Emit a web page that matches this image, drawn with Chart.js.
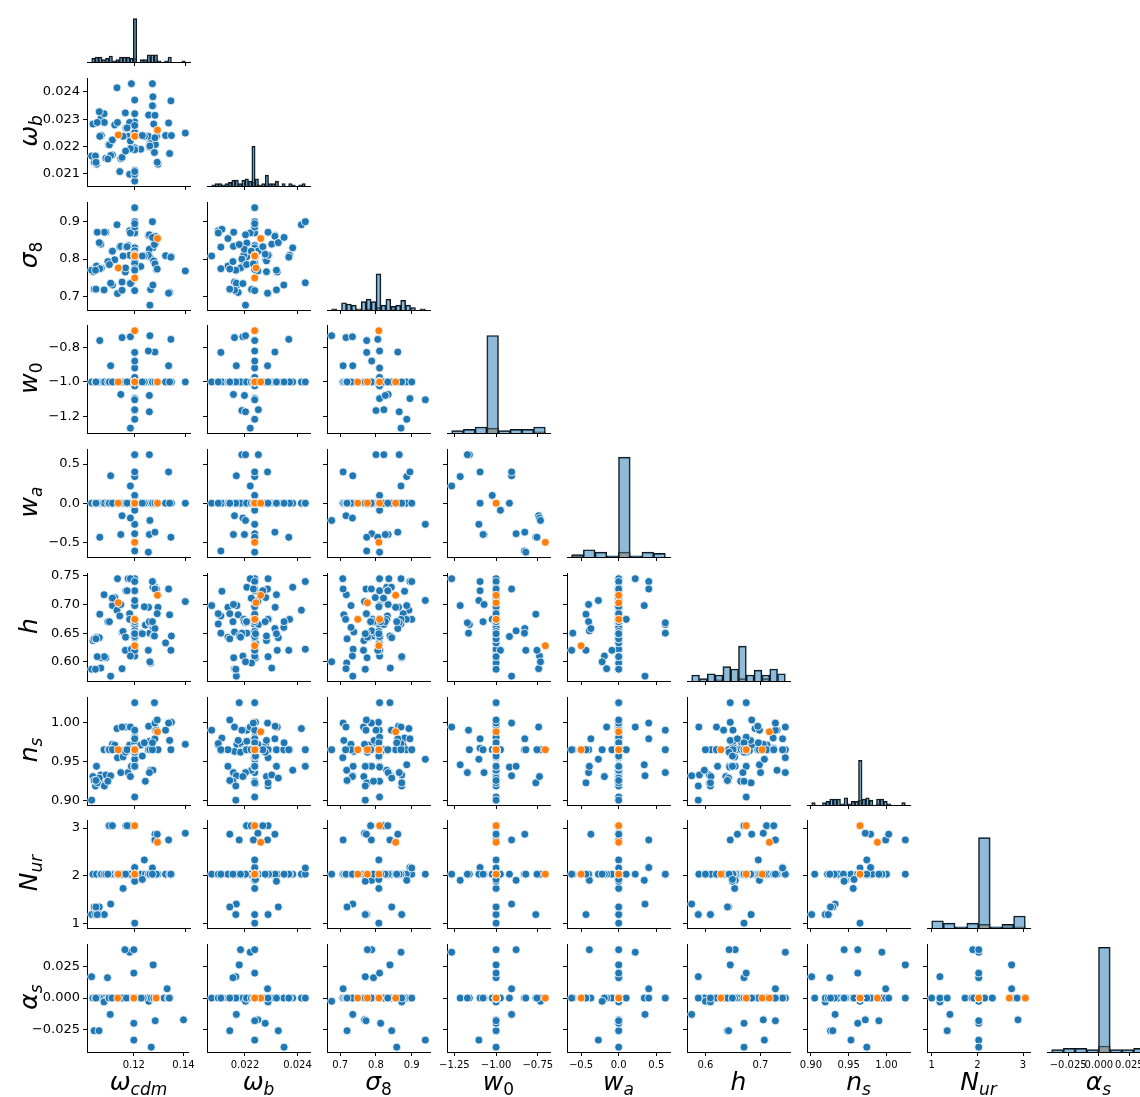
<!DOCTYPE html>
<html>
<head>
<meta charset="utf-8">
<script src="https://cdn.jsdelivr.net/npm/chart.js@4.4.1/dist/chart.umd.min.js"></script>
<style>
  html, body { margin: 0; padding: 0; background: #fff; }
  #fig { position: relative; width: 1140px; height: 1097px; overflow: hidden; background: #fff; }
  #fig canvas { position: absolute; }
  .lab { position: absolute; left: 0; top: 0; transform-origin: 0 0; font-family: 'DejaVu Sans', sans-serif;
         font-size: 25px; line-height: 1; color: #000; white-space: nowrap; }
  .lab i { font-style: oblique; }
  .lab sub { font-size: 68%; vertical-align: -0.3em; line-height: 0; }
</style>
</head>
<body>
<div id="fig"></div>
<script>
// ---- Training sample (blue): one entry per simulation ----
// order: LCDM-varied runs, single-parameter runs at omega_cdm = 0.12,
//        w0/wa runs, N_ur runs, running-index runs, extra N_ur runs
const trainOmegaCdm = [
  0.1035, 0.1049, 0.1066, 0.1068, 0.1079, 0.1086, 0.1112, 0.1121, 0.1130, 0.1132, 0.1141, 0.1150, 0.1163, 0.1174, 0.1180, 0.1187,
  0.1200, 0.1200, 0.1200, 0.1224, 0.1242, 0.1255, 0.1259, 0.1263, 0.1272, 0.1272, 0.1275, 0.1282, 0.1292, 0.1322, 0.1345, 0.1338,
  0.12, 0.12, 0.12, 0.12, 0.12, 0.12, 0.12, 0.12, 0.12, 0.12, 0.12, 0.12, 0.12, 0.12, 0.12, 0.12, 0.12, 0.12,
  0.1183, 0.1200, 0.1200, 0.1200, 0.1258, 0.1200, 0.1200, 0.1200, 0.1145, 0.1258, 0.1200, 0.1200, 0.1105, 0.1334, 0.1200, 0.1200,
  0.1280, 0.1200, 0.1254, 0.1062, 0.1150, 0.1183, 0.1260, 0.1343,
  0.1097, 0.1110, 0.1165, 0.1180, 0.1278, 0.1400, 0.1238, 0.1270, 0.1154, 0.1040, 0.1060, 0.1030, 0.1080, 0.1200,
  0.1094, 0.1164, 0.1200, 0.1200, 0.1286, 0.1270,
  0.1100, 0.1112, 0.1170, 0.1045, 0.1052, 0.1047, 0.1280, 0.1289, 0.1200, 0.1230
];
const trainOmegaB = [
  0.02282, 0.02135, 0.02302, 0.02240, 0.02320, 0.02157, 0.02169, 0.02279, 0.02415, 0.02288, 0.02108, 0.02160, 0.02323, 0.02237, 0.02098, 0.02430,
  0.02073, 0.02112, 0.02098, 0.02190, 0.02237, 0.02315, 0.02207, 0.02225, 0.02382, 0.02348, 0.02282, 0.02207, 0.02135, 0.02240, 0.02240, 0.02174,
  0.02237, 0.02237, 0.02237, 0.02237, 0.02237, 0.02237, 0.02237, 0.02237, 0.02237, 0.02237, 0.02237, 0.02237, 0.02237, 0.02237, 0.02290, 0.02195, 0.02370, 0.02237,
  0.02220, 0.02237, 0.02188, 0.02251, 0.02202, 0.02237, 0.02237, 0.02237, 0.02156, 0.02198, 0.02237, 0.02237, 0.02167, 0.02286, 0.02237, 0.02237,
  0.02314, 0.02108, 0.02237, 0.02237, 0.02160, 0.02192, 0.02202, 0.02367,
  0.02206, 0.02224, 0.02268, 0.02288, 0.02178, 0.02249, 0.02237, 0.02430, 0.02237, 0.02142, 0.02327, 0.02165, 0.02288, 0.02237,
  0.02154, 0.02183, 0.02237, 0.02277, 0.02237, 0.02349,
  0.02206, 0.02224, 0.02268, 0.02165, 0.02288, 0.02142, 0.02232, 0.02142, 0.02320, 0.02240
];
const trainSigma8 = [
  0.766, 0.781, 0.840, 0.775, 0.717, 0.872, 0.730, 0.798, 0.892, 0.707, 0.832, 0.738, 0.765, 0.836, 0.876, 0.736,
  0.808, 0.880, 0.870, 0.780, 0.810, 0.863, 0.806, 0.718, 0.830, 0.730, 0.795, 0.843, 0.855, 0.809, 0.807, 0.710,
  0.900, 0.885, 0.870, 0.830, 0.790, 0.715, 0.810, 0.810, 0.810, 0.810, 0.810, 0.810, 0.810, 0.810, 0.810, 0.810, 0.810, 0.810,
  0.870, 0.886, 0.800, 0.822, 0.865, 0.895, 0.810, 0.938, 0.834, 0.826, 0.810, 0.810, 0.735, 0.708, 0.810, 0.788,
  0.861, 0.774, 0.810, 0.774, 0.716, 0.734, 0.676, 0.805,
  0.785, 0.821, 0.833, 0.810, 0.839, 0.768, 0.808, 0.900, 0.808, 0.719, 0.844, 0.770, 0.872, 0.808,
  0.793, 0.776, 0.810, 0.813, 0.772, 0.858,
  0.785, 0.821, 0.833, 0.770, 0.872, 0.719, 0.787, 0.773, 0.770, 0.808
];
const trainW0 = [
  -1, -1, -1, -1, -1, -1, -1, -1, -1, -1, -1, -1, -1, -1, -1, -1,
  -1, -1, -1, -1, -1, -1, -1, -1, -1, -1, -1, -1, -1, -1, -1, -1,
  -1, -1, -1, -1, -1, -1, -1, -1, -1, -1, -1, -1, -1, -1, -1, -1, -1, -1,
  -1.266, -1.215, -1.165, -1.160, -1.172, -1.096, -1.096, -1.103, -1.072, -1.078, -1.023, -0.974, -0.907, -0.907, -0.920, -0.880,
  -0.828, -0.830, -0.822, -0.762, -0.745, -0.740, -0.734, -0.755,
  -1, -1, -1, -1, -1, -1, -1, -1, -1, -1, -1, -1, -1, -1,
  -1, -1, -1, -1, -1, -1,
  -1, -1, -1, -1, -1, -1, -1, -1, -1, -1
];
const trainWa = [
  0, 0, 0, 0, 0, 0, 0, 0, 0, 0, 0, 0, 0, 0, 0, 0,
  0, 0, 0, 0, 0, 0, 0, 0, 0, 0, 0, 0, 0, 0, 0, 0,
  0, 0, 0, 0, 0, 0, 0, 0, 0, 0, 0, 0, 0, 0, 0, 0, 0, 0,
  0.22, 0.34, 0.62, 0.62, 0.62, 0.40, 0.00, -0.27, -0.40, -0.40, 0.10, -0.09, 0.35, 0.40, 0.00, -0.39,
  -0.37, -0.61, -0.625, -0.435, -0.16, -0.19, -0.22, -0.435,
  0, 0, 0, 0, 0, 0, 0, 0, 0, 0, 0, 0, 0, 0,
  0, 0, 0, 0, 0, 0,
  0, 0, 0, 0, 0, 0, 0, 0, 0, 0
];
const trainHubble = [
  0.637, 0.643, 0.589, 0.607, 0.717, 0.607, 0.698, 0.712, 0.690, 0.745, 0.680, 0.652, 0.620, 0.745, 0.684, 0.622,
  0.698, 0.723, 0.666, 0.650, 0.664, 0.695, 0.650, 0.598, 0.730, 0.660, 0.645, 0.730, 0.695, 0.633, 0.645, 0.682,
  0.674, 0.674, 0.674, 0.674, 0.674, 0.674, 0.745, 0.698, 0.610, 0.642, 0.674, 0.674, 0.674, 0.674, 0.674, 0.674, 0.674, 0.674,
  0.745, 0.698, 0.650, 0.665, 0.668, 0.740, 0.724, 0.707, 0.700, 0.670, 0.674, 0.620, 0.575, 0.727, 0.644, 0.654,
  0.658, 0.650, 0.620, 0.683, 0.588, 0.610, 0.600, 0.620,
  0.670, 0.711, 0.724, 0.674, 0.645, 0.705, 0.696, 0.740, 0.653, 0.640, 0.642, 0.587, 0.609, 0.670,
  0.670, 0.643, 0.674, 0.670, 0.727, 0.670,
  0.670, 0.711, 0.724, 0.587, 0.609, 0.640, 0.727, 0.684, 0.649, 0.649
];
const trainNs = [
  0.931, 0.944, 0.933, 0.922, 0.965, 0.933, 0.972, 0.971, 0.992, 0.955, 0.964, 0.963, 0.994, 0.936, 0.971, 0.944,
  0.990, 0.980, 0.973, 0.971, 0.925, 0.995, 0.976, 0.939, 0.939, 0.965, 0.977, 0.990, 0.965, 0.990, 1.000, 0.977,
  0.965, 0.965, 0.965, 0.965, 0.965, 0.965, 0.965, 0.965, 0.965, 0.965, 1.025, 0.905, 0.944, 0.981, 0.965, 0.965, 0.965, 0.965,
  0.994, 0.946, 0.990, 0.965, 0.936, 0.979, 0.967, 0.953, 0.936, 0.965, 0.965, 0.965, 0.932, 0.999, 0.943, 0.944,
  0.979, 0.965, 0.965, 0.923, 0.994, 0.931, 0.965, 0.965,
  0.965, 0.965, 0.965, 0.965, 1.025, 0.972, 0.974, 0.965, 0.956, 0.926, 0.929, 0.901, 0.919, 0.965,
  0.925, 0.962, 0.962, 0.962, 0.990, 0.974,
  0.965, 0.965, 0.965, 0.919, 0.923, 0.926, 0.999, 1.003, 0.944, 0.957
];
const trainNur = [
  2.03, 2.03, 2.03, 2.03, 2.03, 2.03, 2.03, 2.03, 2.03, 2.03, 2.03, 2.03, 2.03, 2.03, 2.03, 2.03,
  2.03, 2.03, 2.03, 2.03, 2.03, 2.03, 2.03, 2.03, 2.03, 2.03, 2.03, 2.03, 2.03, 2.03, 2.03, 2.03,
  2.03, 2.03, 2.03, 2.03, 2.03, 2.03, 2.03, 2.03, 2.03, 2.03, 2.03, 2.03, 2.03, 2.03, 2.03, 2.03, 2.03, 2.03,
  2.03, 1.90, 2.03, 2.03, 2.03, 2.17, 2.03, 2.03, 2.03, 2.03, 2.03, 2.03, 1.40, 2.75, 2.03, 1.90,
  2.87, 2.03, 2.03, 1.18, 2.03, 2.03, 2.03, 2.03,
  3.05, 3.05, 3.05, 3.05, 2.75, 2.89, 2.33, 2.16, 1.73, 1.34, 1.34, 1.18, 1.18, 1.00,
  2.03, 2.03, 2.03, 2.03, 2.03, 2.03,
  3.05, 3.05, 3.05, 1.18, 1.18, 1.34, 2.75, 2.87, 1.88, 1.92
];
const trainAlphaS = [
  0, 0, 0, 0, 0, 0, 0, 0, 0, 0, 0, 0, 0, 0, 0, 0,
  0, 0, 0, 0, 0, 0, 0, 0, 0, 0, 0, 0, 0, 0, 0, 0,
  0, 0, 0, 0, 0, 0, 0, 0, 0, 0, 0, 0, 0, 0, 0, 0, 0, 0,
  0.036, 0, 0, 0, 0, 0, 0, -0.033, 0, 0, 0, 0, -0.0128, 0.0073, 0, 0.038,
  0, 0, 0, 0, 0, 0, -0.0025, 0,
  0, 0, 0, 0, 0.026, -0.0171, 0, 0, 0, -0.0256, -0.0256, 0.0168, -0.003, 0,
  0.016, 0.038, 0.0196, -0.0198, -0.0178, -0.0385,
  0, 0, 0, 0, 0, 0, 0, 0, 0, 0
];

// ---- Test sample (orange) ----
const testOmegaCdm = [0.1200, 0.1135, 0.1200, 0.1290, 0.1200];
const testOmegaB   = [0.02237, 0.02242, 0.02237, 0.02260, 0.02237];
const testSigma8   = [0.810, 0.776, 0.749, 0.855, 0.808];
const testW0       = [-1.0, -1.0, -1.0, -1.0, -0.705];
const testWa       = [0.0, 0.0, 0.0, 0.0, -0.50];
const testHubble   = [0.674, 0.703, 0.674, 0.716, 0.628];
const testNs       = [0.965, 0.965, 0.965, 0.988, 0.965];
const testNur      = [3.05, 2.03, 2.03, 2.70, 2.03];
const testAlphaS   = [0, 0, 0, 0, 0];

// ---- Tick labels ----
const omegaCdmXTicks = ['0.12', '0.14'];
const omegaBXTicks   = ['0.022', '0.024'];
const omegaBYTicks   = ['0.021', '0.022', '0.023', '0.024'];
const sigma8Ticks    = ['0.7', '0.8', '0.9'];
const w0XTicks       = ['\u22121.25', '\u22121.00', '\u22120.75'];
const w0YTicks       = ['\u22121.2', '\u22121.0', '\u22120.8'];
const waTicks        = ['\u22120.5', '0.0', '0.5'];
const hubbleXTicks   = ['0.6', '0.7'];
const hubbleYTicks   = ['0.60', '0.65', '0.70', '0.75'];
const nsTicks        = ['0.90', '0.95', '1.00'];
const nurTicks       = ['1', '2', '3'];
const alphaSTicks    = ['\u22120.025', '0.000', '0.025'];

// ---- Histogram bin counts per variable ----
const histBins = [27, 28, 19, 8, 8, 12, 26, 8, 8];

const params = [
  { train: trainOmegaCdm, test: testOmegaCdm, xTicks: omegaCdmXTicks, yTicks: [],           label: '<i>\u03c9</i><sub><i>cdm</i></sub>' },
  { train: trainOmegaB,   test: testOmegaB,   xTicks: omegaBXTicks,   yTicks: omegaBYTicks, label: '<i>\u03c9</i><sub><i>b</i></sub>' },
  { train: trainSigma8,   test: testSigma8,   xTicks: sigma8Ticks,    yTicks: sigma8Ticks,  label: '<i>\u03c3</i><sub>8</sub>' },
  { train: trainW0,       test: testW0,       xTicks: w0XTicks,       yTicks: w0YTicks,     label: '<i>w</i><sub>0</sub>' },
  { train: trainWa,       test: testWa,       xTicks: waTicks,        yTicks: waTicks,      label: '<i>w</i><sub><i>a</i></sub>' },
  { train: trainHubble,   test: testHubble,   xTicks: hubbleXTicks,   yTicks: hubbleYTicks, label: '<i>h</i>' },
  { train: trainNs,       test: testNs,       xTicks: nsTicks,        yTicks: nsTicks,      label: '<i>n</i><sub><i>s</i></sub>' },
  { train: trainNur,      test: testNur,      xTicks: nurTicks,       yTicks: nurTicks,     label: '<i>N</i><sub><i>ur</i></sub>' },
  { train: trainAlphaS,   test: testAlphaS,   xTicks: alphaSTicks,    yTicks: alphaSTicks,  label: '<i>\u03b1</i><sub><i>s</i></sub>' }
];

// ---- Grid geometry ----
const COL_X0 = 86.7, COL_STEP = 120, PANEL_W = 103;
const ROW_Y0 = -47.7, ROW_STEP = 123.7, PANEL_H = 110;
const PAD = { l: 60, r: 8, t: 8, b: 24 };
const BLUE = '#1f77b4', ORANGE = '#ff7f0e';
const FONT = "'DejaVu Sans', sans-serif";

Chart.defaults.font.family = FONT;
Chart.defaults.color = '#000';

const fig = document.getElementById('fig');
const colLeft = c => Math.round(COL_X0 + COL_STEP * c);
const rowTop = r => Math.round(ROW_Y0 + ROW_STEP * r);
const tickValues = labels => labels.map(s => Number(s.replace('\u2212', '-')));

// axis limits: data range plus 5% margins on both sides
const limits = params.map(p => {
  const all = p.train.concat(p.test);
  const lo = Math.min(...all), hi = Math.max(...all);
  const m = 0.05 * (hi - lo);
  return { lo, hi, min: lo - m, max: hi + m };
});

function binCounts(values, lim, nb) {
  const counts = new Array(nb).fill(0);
  const w = (lim.hi - lim.lo) / nb;
  values.forEach(v => {
    let k = Math.floor((v - lim.lo) / w);
    if (k >= nb) k = nb - 1;
    if (k < 0) k = 0;
    counts[k]++;
  });
  return counts;
}

const hists = params.map((p, i) => ({
  train: binCounts(p.train, limits[i], histBins[i]),
  test: binCounts(p.test, limits[i], histBins[i])
}));
const histMax = Math.max(...hists.map(h => Math.max(...h.train, ...h.test)));

function makeCanvas(r, c) {
  const cv = document.createElement('canvas');
  cv.width = PANEL_W + PAD.l + PAD.r;
  cv.height = PANEL_H + PAD.t + PAD.b;
  cv.style.left = (colLeft(c) - PAD.l) + 'px';
  cv.style.top = (rowTop(r) - PAD.t) + 'px';
  fig.appendChild(cv);
  return cv;
}

function xAxis(i, showLabels) {
  const labels = params[i].xTicks;
  const vals = tickValues(labels);
  return {
    type: 'linear', position: 'bottom', offset: false,
    min: limits[i].min, max: limits[i].max,
    afterBuildTicks: s => { s.ticks = vals.map(v => ({ value: v })); },
    afterFit: s => { s.height = PAD.b; },
    ticks: {
      autoSkip: false, maxRotation: 0, minRotation: 0, padding: 3, color: '#000',
      font: { family: FONT, size: 10 },
      callback: (v, k) => (showLabels ? labels[k] : '')
    },
    grid: { display: true, offset: false, drawOnChartArea: false, drawTicks: true, tickLength: 4, tickWidth: 1, color: '#000' },
    border: { display: true, color: '#000', width: 1 }
  };
}

function yAxis(i, showLabels) {
  const labels = params[i].yTicks;
  const vals = tickValues(labels);
  return {
    type: 'linear', position: 'left',
    min: limits[i].min, max: limits[i].max,
    afterBuildTicks: s => { s.ticks = vals.map(v => ({ value: v })); },
    afterFit: s => { s.width = PAD.l; },
    ticks: {
      autoSkip: false, padding: 3, color: '#000',
      font: { family: FONT, size: 13 },
      callback: (v, k) => (showLabels ? labels[k] : '')
    },
    grid: { display: true, drawOnChartArea: false, drawTicks: true, tickLength: 4, tickWidth: 1, color: '#000' },
    border: { display: true, color: '#000', width: 1 }
  };
}

const baseOptions = () => ({
  responsive: false, animation: false, events: [],
  layout: { padding: { left: 0, top: PAD.t, right: PAD.r, bottom: 0 } },
  plugins: { legend: { display: false }, tooltip: { enabled: false } }
});

function drawScatter(r, c) {
  const px = params[c], py = params[r];
  const pts = (xs, ys) => xs.map((x, k) => ({ x, y: ys[k] }));
  const opts = baseOptions();
  opts.elements = { point: { radius: 4, hoverRadius: 4, borderColor: '#fff', borderWidth: 0.8 } };
  opts.scales = { x: xAxis(c, r === params.length - 1), y: yAxis(r, c === 0) };
  new Chart(makeCanvas(r, c), {
    type: 'scatter',
    data: {
      datasets: [
        { data: pts(px.test, py.test), backgroundColor: ORANGE, order: 0 },
        { data: pts(px.train, py.train), backgroundColor: BLUE, order: 1 }
      ]
    },
    options: opts
  });
}

function drawHist(i) {
  const lim = limits[i], nb = histBins[i];
  const w = (lim.hi - lim.lo) / nb;
  const bars = counts => counts.map((n, k) => ({ x: lim.lo + (k + 0.5) * w, y: n > 0 ? n : null }));
  const barStyle = { grouped: false, barPercentage: 1, categoryPercentage: 1, borderColor: '#111', borderWidth: 1 };
  const opts = baseOptions();
  opts.scales = {
    x: xAxis(i, i === params.length - 1),
    y: {
      type: 'linear', display: true, min: 0, max: histMax * 1.05,
      afterFit: s => { s.width = PAD.l; },
      ticks: { display: false }, grid: { display: false }, border: { display: false }
    }
  };
  new Chart(makeCanvas(i, i), {
    type: 'bar',
    data: {
      datasets: [
        Object.assign({ data: bars(hists[i].train), backgroundColor: 'rgba(31,119,180,0.5)', order: 0 }, barStyle),
        Object.assign({ data: bars(hists[i].test), backgroundColor: 'rgba(255,127,14,0.5)', order: 1 }, barStyle)
      ]
    },
    options: opts
  });
}

for (let r = 0; r < params.length; r++) {
  for (let c = 0; c <= r; c++) {
    if (r === c) drawHist(r); else drawScatter(r, c);
  }
}

// ---- Axis titles ----
const LABEL_BASELINE = 21; // baseline offset inside a 25px line box
params.forEach((p, i) => {
  const bottom = document.createElement('div');
  bottom.className = 'lab';
  bottom.innerHTML = p.label;
  bottom.style.transform = `translate(${colLeft(i) + PANEL_W / 2}px, 1090px) translate(-50%, -${LABEL_BASELINE}px)`;
  fig.appendChild(bottom);
  if (i > 0) {
    const left = document.createElement('div');
    left.className = 'lab';
    left.innerHTML = p.label;
    left.style.transform = `translate(37px, ${rowTop(i) + PANEL_H / 2}px) rotate(-90deg) translate(-50%, -${LABEL_BASELINE}px)`;
    fig.appendChild(left);
  }
});
</script>
</body>
</html>
